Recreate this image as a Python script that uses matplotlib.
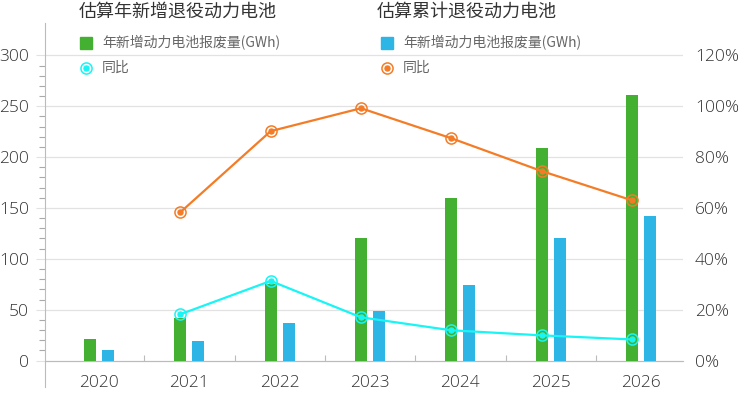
import matplotlib
matplotlib.use("Agg")
import matplotlib.pyplot as plt
import numpy as np
from matplotlib.ticker import MultipleLocator, FixedLocator, FuncFormatter

plt.rcParams['font.family'] = ['Noto Sans CJK SC', 'DejaVu Sans']

years = ['2020', '2021', '2022', '2023', '2024', '2025', '2026']
new_retired = [21, 42, 75, 120, 160, 209, 261]          # 估算年新增退役动力电池 (GWh)
cum_retired = [10, 19, 37, 49, 74, 120, 142]            # 估算累计退役动力电池 (GWh)
new_yoy = [None, 18.2, 31.3, 17.0, 11.9, 9.9, 8.3]      # 同比 (%)
cum_yoy = [None, 58.3, 90.2, 99.2, 87.4, 74.5, 63.0]    # 同比 (%)

title_left = '估算年新增退役动力电池'
title_right = '估算累计退役动力电池'
legend_bar = '年新增动力电池报废量(GWh)'
legend_line = '同比'

GREEN = '#44b031'
BLUE = '#2db5e6'
CYAN = '#18f5f5'
ORANGE = '#f47c26'
GRID = '#e2e2e2'
AXIS = '#bbbbbb'
NUMFONT = dict(family=['Open Sans', 'DejaVu Sans'], weight=300)

W, H = 738, 393
fig = plt.figure(figsize=(W / 100, H / 100), dpi=100)
ax = fig.add_axes([45 / W, 6 / H, (683 - 45) / W, (387 - 23) / H])

x = np.arange(len(years))
bw = 0.133
off = 0.0996
ax.bar(x - off, new_retired, width=bw, color=GREEN, zorder=3)
ax.bar(x + off, cum_retired, width=bw, color=BLUE, zorder=3)

ax.set_xlim(-0.598, 6.465)
ax.set_ylim(-26.0, 331.8)

# y axis
ax.yaxis.set_major_locator(MultipleLocator(50))
ax.yaxis.set_minor_locator(FixedLocator([v for v in range(10, 300, 10) if v % 50]))
ax.tick_params(axis='y', which='major', length=6.5, color=GRID, width=0.8,
               labelsize=12.5, labelcolor='#333333', pad=5)
ax.tick_params(axis='y', which='minor', length=4.3, color='#aaaaaa', width=0.8)
ax.grid(axis='y', which='major', color=GRID, linewidth=0.9, zorder=0)
ax.set_axisbelow(True)

# x axis
ax.spines['bottom'].set_position(('data', 0))
ax.spines['bottom'].set_color(AXIS)
ax.spines['bottom'].set_zorder(2.5)
ax.spines['left'].set_color(AXIS)
ax.spines['top'].set_visible(False)
ax.spines['right'].set_visible(False)
ax.set_xticks(x)
ax.set_xticklabels(years)
ax.xaxis.set_minor_locator(FixedLocator(x[:-1] + 0.5))
ax.tick_params(axis='x', which='major', length=0, labelsize=12.5,
               labelcolor='#333333', pad=10.5)
ax.tick_params(axis='x', which='minor', direction='in', length=4.3,
               color=AXIS, width=0.8)

# right axis
ax2 = ax.twinx()
ax2.set_ylim(-26.0 * 0.4, 331.8 * 0.4)
ax2.set_yticks(np.arange(0, 121, 20))
ax2.yaxis.set_major_formatter(FuncFormatter(lambda v, p: f'{int(round(v))}%'))
ax2.tick_params(axis='y', length=0, labelsize=12.5, labelcolor='#333333', pad=8.6)
for s in ax2.spines.values():
    s.set_visible(False)

for lab in ax.get_yticklabels() + ax.get_xticklabels() + ax2.get_yticklabels():
    lab.set_fontfamily(NUMFONT['family'])
    lab.set_fontweight(NUMFONT['weight'])

lx = x[1:] - off
ny = [v for v in new_yoy if v is not None]
cy = [v for v in cum_yoy if v is not None]
for yy, col in ((ny, CYAN), (cy, ORANGE)):
    ax2.plot(lx, yy, color=col, linewidth=1.6, zorder=4)
    ax2.plot(lx, yy, linestyle='none', marker='o', ms=8, mfc='none',
             mec=col, mew=1.1, zorder=5)
    ax2.plot(lx, yy, linestyle='none', marker='o', ms=3.6, color=col, zorder=6)

# overlay in pixel coords for titles and legends
ov = fig.add_axes([0, 0, 1, 1], zorder=10)
ov.set_xlim(0, W)
ov.set_ylim(H, 0)
ov.axis('off')
ov.patch.set_alpha(0)

ov.text(79, 11.5, title_left, fontsize=13, color='#333333', va='center', ha='left')
ov.text(377, 11.5, title_right, fontsize=13, color='#333333', va='center', ha='left')

for cx, bcol, lcol in ((86, GREEN, CYAN), (387, BLUE, ORANGE)):
    ov.plot([cx], [43], marker='s', ms=8, color=bcol, linestyle='none')
    ov.plot([cx], [68], marker='o', ms=8, mfc='none', mec=lcol, mew=1.1, linestyle='none')
    ov.plot([cx], [68], marker='o', ms=3.6, color=lcol, linestyle='none')
    ov.text(cx + 16, 43, legend_bar, fontsize=10, color='#666666', va='center', ha='left')
    ov.text(cx + 16, 68, legend_line, fontsize=10, color='#666666', va='center', ha='left')

fig.savefig('out.png', dpi=100)
